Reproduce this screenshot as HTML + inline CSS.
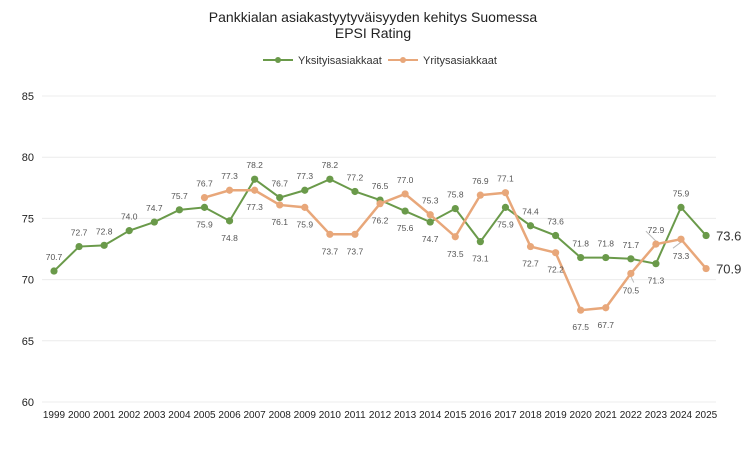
<!DOCTYPE html>
<html><head><meta charset="utf-8"><style>
body{margin:0;background:#fff;}
svg{display:block;font-family:"Liberation Sans",sans-serif;}
</style></head><body>
<svg id="c" width="746" height="460" xmlns="http://www.w3.org/2000/svg">
<text x="373" y="22" text-anchor="middle" font-size="14" fill="#222">Pankkialan asiakastyytyväisyyden kehitys Suomessa</text>
<text x="373" y="38" text-anchor="middle" font-size="14" fill="#222">EPSI Rating</text>
<line x1="263" y1="60" x2="293" y2="60" stroke="#6a9a4a" stroke-width="2"/><circle cx="278" cy="60" r="3" fill="#6a9a4a"/>
<text x="298" y="64" font-size="11" fill="#333">Yksityisasiakkaat</text>
<line x1="388" y1="60" x2="418" y2="60" stroke="#e8a77a" stroke-width="2"/><circle cx="403" cy="60" r="3" fill="#e8a77a"/>
<text x="423" y="64" font-size="11" fill="#333">Yritysasiakkaat</text>
<g id="g"></g>
</svg>
<script>
const g=document.getElementById('g');let s='';
const Y=v=>402-(v-60)*12.24, X=i=>54+i*25.08;
for(let v=60;v<=85;v+=5){s+=`<line x1="42" x2="716" y1="${Y(v)}" y2="${Y(v)}" stroke="#ececec"/><text x="34" y="${Y(v)+4}" text-anchor="end" font-size="11" fill="#222">${v}</text>`;}
for(let i=0;i<27;i++)s+=`<text x="${X(i)}" y="418" text-anchor="middle" font-size="10" fill="#222">${1999+i}</text>`;
const G=[70.7,72.7,72.8,74.0,74.7,75.7,75.9,74.8,78.2,76.7,77.3,78.2,77.2,76.5,75.6,74.7,75.8,73.1,75.9,74.4,73.6,71.8,71.8,71.7,71.3,75.9,73.6];
const Gp="aaaaaabbaaaaaabbabbaaaaabad";
const O=[76.7,77.3,77.3,76.1,75.9,73.7,73.7,76.2,77.0,75.3,73.5,76.9,77.1,72.7,72.2,67.5,67.7,70.5,72.9,73.3,70.9];
const Op="aabbbbbbaabaabbbbbabd";
function line(d,off,c,p){let pts=d.map((v,i)=>X(i+off)+','+Y(v)).join(' ');
s+=`<polyline points="${pts}" fill="none" stroke="${c}" stroke-width="${c=='#e8a77a'?2.5:2}"/>`;
d.forEach((v,i)=>{const x=X(i+off),y=Y(v);s+=`<circle cx="${x}" cy="${y}" r="3.6" fill="${c}"/>`;
const t=v.toFixed(1);
if(p[i]=='d')s+=`<text x="${x+10}" y="${y+5}" font-size="13" fill="#333">${t}</text>`;
else s+=`<text x="${x}" y="${p[i]=='a'?y-11:y+20}" text-anchor="middle" font-size="8.5" fill="#555">${t}</text>`;});}
line(G,0,'#6a9a4a',Gp);
s+=`<line x1="${X(24)}" y1="${Y(72.9)-3}" x2="${X(24)-10}" y2="${Y(72.9)-13}" stroke="#bbb"/>`;
s+=`<line x1="${X(25)}" y1="${Y(73.3)+3}" x2="${X(25)-8}" y2="${Y(73.3)+9}" stroke="#bbb"/>`;
s+=`<line x1="${X(23)}" y1="${Y(70.5)+3}" x2="${X(23)+3}" y2="${Y(70.5)+9}" stroke="#bbb"/>`;
line(O,6,'#e8a77a',Op);
g.innerHTML=s;
</script>
</body></html>
